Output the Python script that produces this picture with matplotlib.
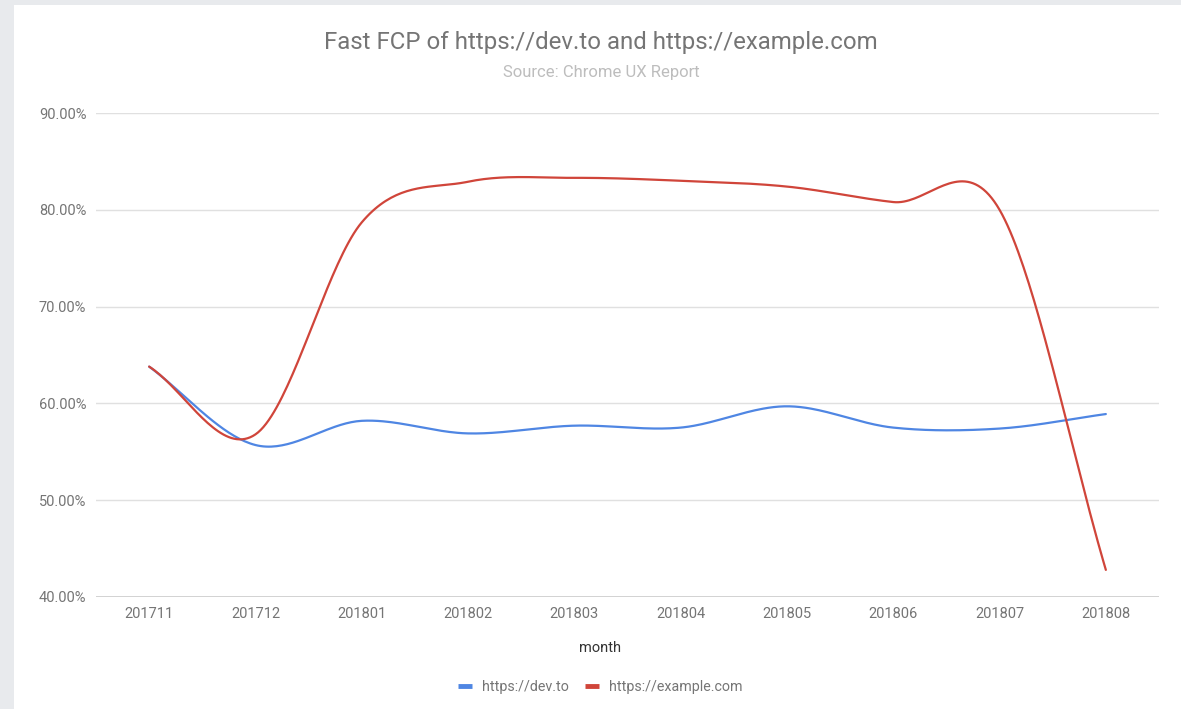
import numpy as np
import matplotlib
matplotlib.use("Agg")
import matplotlib.pyplot as plt
from matplotlib.patches import Rectangle
from matplotlib.ticker import FuncFormatter

# Donnees (en %)
months = ["201711", "201712", "201801", "201802", "201803",
          "201804", "201805", "201806", "201807", "201808"]
devto = [63.8, 55.7, 58.2, 56.9, 57.7, 57.5, 59.7, 57.5, 57.4, 58.9]
example = [63.8, 56.8, 78.7, 82.9, 83.3, 83.0, 82.4, 80.8, 80.0, 42.8]

BLUE = "#4f86e3"
RED = "#d0453a"
plt.rcParams["font.family"] = ["Roboto", "DejaVu Sans"]


def courbe(y, n=40):
    """Courbe lissee (Catmull-Rom) passant par les points, comme curveType 'function'"""
    y = np.asarray(y, dtype=float)
    m = np.gradient(y)
    xs, ys = [], []
    for i in range(len(y) - 1):
        t = np.linspace(0, 1, n, endpoint=False)
        h00 = 2 * t**3 - 3 * t**2 + 1
        h10 = t**3 - 2 * t**2 + t
        h01 = -2 * t**3 + 3 * t**2
        h11 = t**3 - t**2
        xs.append(i + t)
        ys.append(h00 * y[i] + h10 * m[i] + h01 * y[i + 1] + h11 * m[i + 1])
    xs.append([len(y) - 1])
    ys.append([y[-1]])
    return np.concatenate(xs), np.concatenate(ys)


fig = plt.figure(figsize=(11.81, 7.09), dpi=100)
fig.patch.set_facecolor("#e8eaed")
fig.add_artist(Rectangle((14 / 1181, 0), 1, 1 - 5 / 709, transform=fig.transFigure,
                         facecolor="white", edgecolor="none", zorder=0))

ax = fig.add_axes([96 / 1181, 1 - 597 / 709, (1159 - 96) / 1181, (597 - 113) / 709])
ax.set_facecolor("none")

x, y = courbe(devto)
ax.plot(x, y, color=BLUE, lw=1.6, label="https://dev.to", zorder=3, solid_capstyle="round")
x, y = courbe(example)
ax.plot(x, y, color=RED, lw=1.6, label="https://example.com", zorder=4, solid_capstyle="round")

ax.set_xlim(-0.5, len(months) - 0.5)
ax.set_ylim(40, 90)
ax.set_yticks(np.arange(40, 91, 10))
ax.yaxis.set_major_formatter(FuncFormatter(lambda v, p: f"{v:.2f}%"))
ax.set_xticks(range(len(months)))
ax.set_xticklabels(months)
ax.grid(axis="y", color="#e0e0e0", lw=1)
ax.axhline(40, color="#cccccc", lw=1.2, zorder=2)
for s in ax.spines.values():
    s.set_visible(False)
ax.tick_params(length=0, colors="#757575", labelsize=10.5)
ax.tick_params(axis="y", pad=7)
ax.tick_params(axis="x", pad=7)
ax.set_xlabel("month", color="#333333", fontsize=10.5)
ax.xaxis.set_label_coords((600 - 96) / 1063, -(648 - 597) / 484)
ax.xaxis.label.set_va("center")

fig.text(601 / 1181, 1 - 43 / 709, "Fast FCP of https://dev.to and https://example.com",
         ha="center", va="center", fontsize=17.3, color="#757575")
fig.text(601 / 1181, 1 - 73 / 709, "Source: Chrome UX Report",
         ha="center", va="center", fontsize=12, color="#bdbdbd")

leg = fig.legend(loc="center", bbox_to_anchor=(600 / 1181, 1 - 687 / 709), ncol=2,
                 frameon=False, fontsize=10.3, handlelength=1.0, handletextpad=0.7,
                 columnspacing=1.1)
for t in leg.get_texts():
    t.set_color("#757575")
for h in leg.get_lines():
    h.set_linewidth(3.5)
    h.set_solid_capstyle("butt")

fig.savefig("out.png", dpi=100)
